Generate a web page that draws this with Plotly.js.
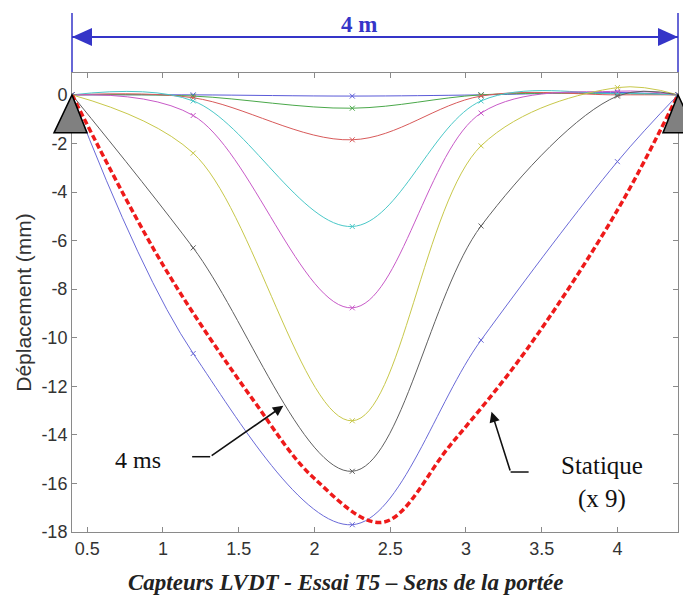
<!DOCTYPE html>
<html>
<head>
<meta charset="utf-8">
<script src="https://cdn.plot.ly/plotly-3.0.1.min.js"></script>
<style>html,body{margin:0;padding:0;background:#fff}#chart{width:683px;height:597px}</style>
</head>
<body>
<div id="chart"></div>
<script>
// Sensor positions (m) and measured deflections (mm)
const sensorX = [0.4, 1.2, 2.25, 3.1, 4.0, 4.4];
const serie1 = [0, 0, -0.05, 0, 0.1, 0];
const serie2 = [0, -0.05, -0.55, 0, 0.05, 0];
const serie3 = [0, -0.12, -1.85, -0.05, 0, 0];
const serie4 = [0, -0.25, -5.42, -0.25, 0.05, 0];
const serie5 = [0, -0.85, -8.77, -0.75, 0.15, 0];
const serie6 = [0, -2.4, -13.42, -2.1, 0.3, 0];
const serie7 = [0, -6.3, -15.5, -5.4, -0.05, 0];
const serie8 = [0, -10.65, -17.7, -10.1, -2.75, 0];
const seriesY = [serie1, serie2, serie3, serie4, serie5, serie6, serie7, serie8];
const seriesColors = ['#5a5ad8', '#4aa84a', '#d85a5a', '#4ac8c8', '#c85ac8', '#c8c84a', '#606060', '#6a6ad8'];

// Static curve (x 9)
const statX = [0.4, 1.0, 1.6, 2.0, 2.45, 2.9, 3.4, 4.0, 4.4];
const statY = [0, -7.0, -12.6, -15.8, -17.6, -14.4, -10.5, -4.75, 0];

const xTicks = [0.5, 1, 1.5, 2, 2.5, 3, 3.5, 4];
const xTickText = ['0.5', '1', '1.5', '2', '2.5', '3', '3.5', '4'];
const yTicks = [0, -2, -4, -6, -8, -10, -12, -14, -16, -18];
const yTickText = ['0', '-2', '-4', '-6', '-8', '-10', '-12', '-14', '-16', '-18'];

const W = 683, H = 597;
const M = {l: 72, r: 5, t: 73, b: 65};
const PW = W - M.l - M.r, PH = H - M.t - M.b;
const xRange = [0.4, 4.4], yRange = [-18, 0.9];
const px = v => (v - xRange[0]) / (xRange[1] - xRange[0]);
const py = v => (v - yRange[0]) / (yRange[1] - yRange[0]);
const dpx = p => p / PW, dpy = p => p / PH;

const traces = seriesY.map((ys, i) => ({
  x: sensorX, y: ys, type: 'scatter', mode: 'lines+markers',
  line: {color: seriesColors[i], width: 1, shape: 'spline', smoothing: 1},
  marker: {symbol: 'x-thin', size: 5, line: {color: seriesColors[i], width: 1}},
  showlegend: false, hoverinfo: 'skip'
}));
traces.push({
  x: statX, y: statY, type: 'scatter', mode: 'lines',
  line: {color: '#ee1a1a', width: 3.5, dash: '6px,3px', shape: 'spline', smoothing: 1},
  showlegend: false, hoverinfo: 'skip'
});

function tri(xd, yd, left, right, h) {
  const x0 = px(xd), y0 = py(yd);
  return `M ${x0} ${y0} L ${x0 + dpx(right)} ${y0 - dpy(h)} L ${x0 - dpx(left)} ${y0 - dpy(h)} Z`;
}
const blue = '#3535c8';
const arrowY = (M.t + PH - 37) / PH;
const shapes = [
  {type: 'path', xref: 'paper', yref: 'paper', path: tri(xRange[0], 0, 18, 15, 38), fillcolor: '#808080', line: {color: '#000', width: 1.5}, layer: 'above'},
  {type: 'path', xref: 'paper', yref: 'paper', path: tri(xRange[1], 0, 15, 18, 38), fillcolor: '#808080', line: {color: '#000', width: 1.5}, layer: 'above'},
  // dimension line
  {type: 'line', xref: 'paper', yref: 'paper', x0: 0, x1: 1, y0: arrowY, y1: arrowY, line: {color: blue, width: 2}},
  {type: 'line', xref: 'paper', yref: 'paper', x0: 0, x1: 0, y0: (M.t + PH - 13) / PH, y1: 1.002, line: {color: blue, width: 1.5}},
  {type: 'line', xref: 'paper', yref: 'paper', x0: 1, x1: 1, y0: (M.t + PH - 13) / PH, y1: 1.002, line: {color: blue, width: 1.5}},
  {type: 'path', xref: 'paper', yref: 'paper', path: `M 0 ${arrowY} L ${dpx(20)} ${arrowY + dpy(9)} L ${dpx(20)} ${arrowY - dpy(9)} Z`, fillcolor: blue, line: {width: 0}},
  {type: 'path', xref: 'paper', yref: 'paper', path: `M 1 ${arrowY} L ${1 - dpx(20)} ${arrowY + dpy(9)} L ${1 - dpx(20)} ${arrowY - dpy(9)} Z`, fillcolor: blue, line: {width: 0}},
  // annotation elbows
  {type: 'line', xref: 'x', yref: 'y', x0: 1.193, x1: 1.312, y0: -14.9, y1: -14.9, line: {color: '#111', width: 1.5}},
  {type: 'line', xref: 'x', yref: 'y', x0: 3.295, x1: 3.414, y0: -15.53, y1: -15.53, line: {color: '#111', width: 1.5}}
];

const serif = 'Liberation Serif, Times New Roman, serif';
const sans = 'Liberation Sans, Arial, sans-serif';
const annotations = [
  {xref: 'paper', yref: 'paper', x: 0.474, y: (M.t + PH - 25) / PH, text: '<b>4 m</b>', showarrow: false,
   font: {family: serif, size: 23, color: blue}, xanchor: 'center', yanchor: 'middle'},
  {xref: 'x', yref: 'y', x: 0.836, y: -15.03, text: '4 ms', showarrow: false,
   font: {family: serif, size: 24, color: '#111'}, xanchor: 'center', yanchor: 'middle'},
  {xref: 'x', yref: 'y', x: 1.795, y: -12.8, ax: 1.312, ay: -14.9, axref: 'x', ayref: 'y', text: '', showarrow: true,
   arrowhead: 2, arrowsize: 1.3, arrowwidth: 1.6, arrowcolor: '#111', standoff: 0},
  {xref: 'x', yref: 'y', x: 3.169, y: -13.05, ax: 3.295, ay: -15.53, axref: 'x', ayref: 'y', text: '', showarrow: true,
   arrowhead: 2, arrowsize: 1.3, arrowwidth: 1.6, arrowcolor: '#111', standoff: 0},
  {xref: 'x', yref: 'y', x: 3.9, y: -15.98, text: 'Statique<br>(x 9)', showarrow: false, align: 'center',
   font: {family: serif, size: 25, color: '#111'}, xanchor: 'center', yanchor: 'middle'},
  {xref: 'paper', yref: 'paper', x: 0.452, y: -50 / PH, text: '<b><i>Capteurs LVDT - Essai T5 – Sens de la portée</i></b>', showarrow: false,
   font: {family: serif, size: 23, color: '#222'}, xanchor: 'center', yanchor: 'middle'}
];

const axisCommon = {
  showgrid: false, zeroline: false, showline: true, linecolor: '#8a8a8a', linewidth: 1,
  mirror: 'ticks', ticks: 'inside', ticklen: 5, tickcolor: '#8a8a8a', tickwidth: 1,
  tickfont: {family: sans, size: 18, color: '#333'}
};

const layout = {
  width: W, height: H, margin: M, paper_bgcolor: '#fff', plot_bgcolor: '#fff',
  showlegend: false,
  xaxis: Object.assign({}, axisCommon, {range: xRange, tickmode: 'array', tickvals: xTicks, ticktext: xTickText}),
  yaxis: Object.assign({}, axisCommon, {range: yRange, tickmode: 'array', tickvals: yTicks, ticktext: yTickText,
    title: {text: 'Déplacement (mm)', font: {family: sans, size: 21, color: '#333'}, standoff: 4}}),
  shapes: shapes, annotations: annotations
};

Plotly.newPlot('chart', traces, layout, {staticPlot: true, displayModeBar: false});
</script>
</body>
</html>
